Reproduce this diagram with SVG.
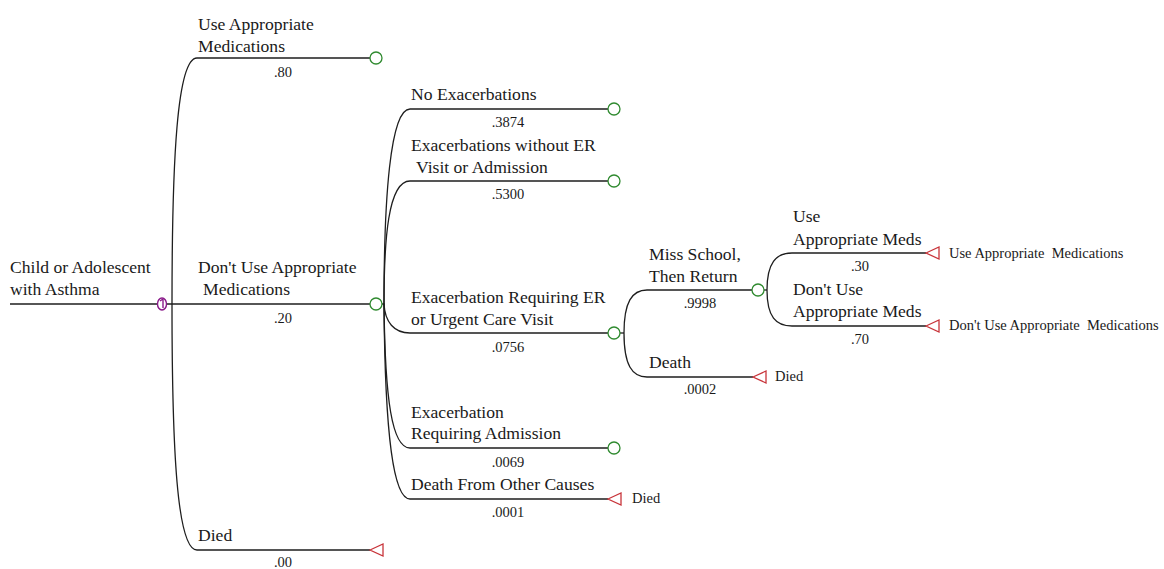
<svg xmlns="http://www.w3.org/2000/svg" width="1164" height="569" viewBox="0 0 1164 569">
<style>
.bg{fill:#ffffff}
.ln{fill:none;stroke:#1e1e1e;stroke-width:1.3}
.ch{fill:#ffffff;stroke:#2f8a2f;stroke-width:1.3}
.tm{fill:#ffffff;stroke:#c8343a;stroke-width:1.3}
.mk{fill:#ffffff;stroke:#8a1a8a;stroke-width:1.4}
text{font-family:'Times New Roman','Liberation Serif','DejaVu Serif',serif;fill:#1a1a1a}
.lb{font-size:17.6px}
.pr{font-size:14.5px;text-anchor:middle}
.sm{font-size:14.5px}
</style>
<rect class="bg" x="0" y="0" width="1164" height="569"/>

<g id="connectors">
  <line class="ln" x1="10" y1="304" x2="157" y2="304"/>
  <line class="ln" x1="167" y1="304" x2="370" y2="304"/>
  <path class="ln" d="M172,304 C172,160 177,58 197,58 L370,58"/>
  <path class="ln" d="M172,304 C172,450 177,550 197,550 L370,550"/>
  <path class="ln" d="M384,304 C384,200 390,109 410,109 L608,109"/>
  <path class="ln" d="M384,304 C384,240 388,181 410,181 L608,181"/>
  <path class="ln" d="M382,304 L384,304 C385,322 394,333 410,333 L608,333"/>
  <path class="ln" d="M384,304 C385,400 392,448 410,448 L608,448"/>
  <path class="ln" d="M384,304 C385,440 394,499 410,499 L608,499"/>
  <path class="ln" d="M620,333 L624,333"/>
  <path class="ln" d="M624,333 C624,302 632,290 647,290 L752,290"/>
  <path class="ln" d="M624,333 C624,365 632,377 647,377 L753,377"/>
  <path class="ln" d="M764,290 L767,290"/>
  <path class="ln" d="M767,290 C767,263 776,253 792,253 L926,253"/>
  <path class="ln" d="M767,290 C767,317 776,326 792,326 L926,326"/>
</g>

<g id="n-root">
  <text class="lb" x="10" y="273">Child or Adolescent</text>
  <text class="lb" x="10" y="295">with Asthma</text>
  <ellipse class="mk" cx="162" cy="304" rx="4.5" ry="6"/>
  <path class="mk" d="M160,301 L163,299 L163,308" style="fill:none"/>
</g>

<g id="n-use-meds">
  <text class="lb" x="198" y="30">Use Appropriate</text>
  <text class="lb" x="198" y="52">Medications</text>
  <text class="pr" x="283" y="77">.80</text>
  <circle class="ch" cx="376" cy="58" r="6"/>
</g>

<g id="n-dont-use-meds">
  <text class="lb" x="198" y="273">Don't Use Appropriate</text>
  <text class="lb" x="203" y="295">Medications</text>
  <text class="pr" x="283" y="323">.20</text>
  <circle class="ch" cx="376" cy="304" r="6"/>
</g>

<g id="n-died-top">
  <text class="lb" x="198" y="541">Died</text>
  <text class="pr" x="283" y="567">.00</text>
  <polygon class="tm" points="370,550 383,544 383,556"/>
</g>

<g id="n-no-exac">
  <text class="lb" x="411" y="100">No Exacerbations</text>
  <text class="pr" x="508" y="127">.3874</text>
  <circle class="ch" cx="614" cy="109" r="6"/>
</g>

<g id="n-exac-no-er">
  <text class="lb" x="411" y="151">Exacerbations without ER</text>
  <text class="lb" x="416" y="173">Visit or Admission</text>
  <text class="pr" x="508" y="199">.5300</text>
  <circle class="ch" cx="614" cy="181" r="6"/>
</g>

<g id="n-exac-er">
  <text class="lb" x="411" y="303">Exacerbation Requiring ER</text>
  <text class="lb" x="411" y="325">or Urgent Care Visit</text>
  <text class="pr" x="508" y="352">.0756</text>
  <circle class="ch" cx="614" cy="333" r="6"/>
</g>

<g id="n-exac-adm">
  <text class="lb" x="411" y="418">Exacerbation</text>
  <text class="lb" x="411" y="439">Requiring Admission</text>
  <text class="pr" x="508" y="467">.0069</text>
  <circle class="ch" cx="614" cy="448" r="6"/>
</g>

<g id="n-death-other">
  <text class="lb" x="411" y="490">Death From Other Causes</text>
  <text class="pr" x="508" y="517">.0001</text>
  <polygon class="tm" points="608,499 621,493 621,505"/>
  <text class="sm" x="632" y="503">Died</text>
</g>

<g id="n-miss-school">
  <text class="lb" x="649" y="260">Miss School,</text>
  <text class="lb" x="649" y="282">Then Return</text>
  <text class="pr" x="700" y="308">.9998</text>
  <circle class="ch" cx="758" cy="290" r="6"/>
</g>

<g id="n-death">
  <text class="lb" x="649" y="368">Death</text>
  <text class="pr" x="700" y="394">.0002</text>
  <polygon class="tm" points="753,377 766,371 766,383"/>
  <text class="sm" x="775" y="381">Died</text>
</g>

<g id="n-use-meds-2">
  <text class="lb" x="793" y="222">Use</text>
  <text class="lb" x="793" y="245">Appropriate Meds</text>
  <text class="pr" x="860" y="271">.30</text>
  <polygon class="tm" points="926,253 939,247 939,259"/>
  <text class="sm" x="949" y="258" xml:space="preserve">Use Appropriate  Medications</text>
</g>

<g id="n-dont-use-meds-2">
  <text class="lb" x="793" y="295">Don't Use</text>
  <text class="lb" x="793" y="317">Appropriate Meds</text>
  <text class="pr" x="860" y="344">.70</text>
  <polygon class="tm" points="926,326 939,320 939,332"/>
  <text class="sm" x="949" y="330" xml:space="preserve">Don't Use Appropriate  Medications</text>
</g>
</svg>
